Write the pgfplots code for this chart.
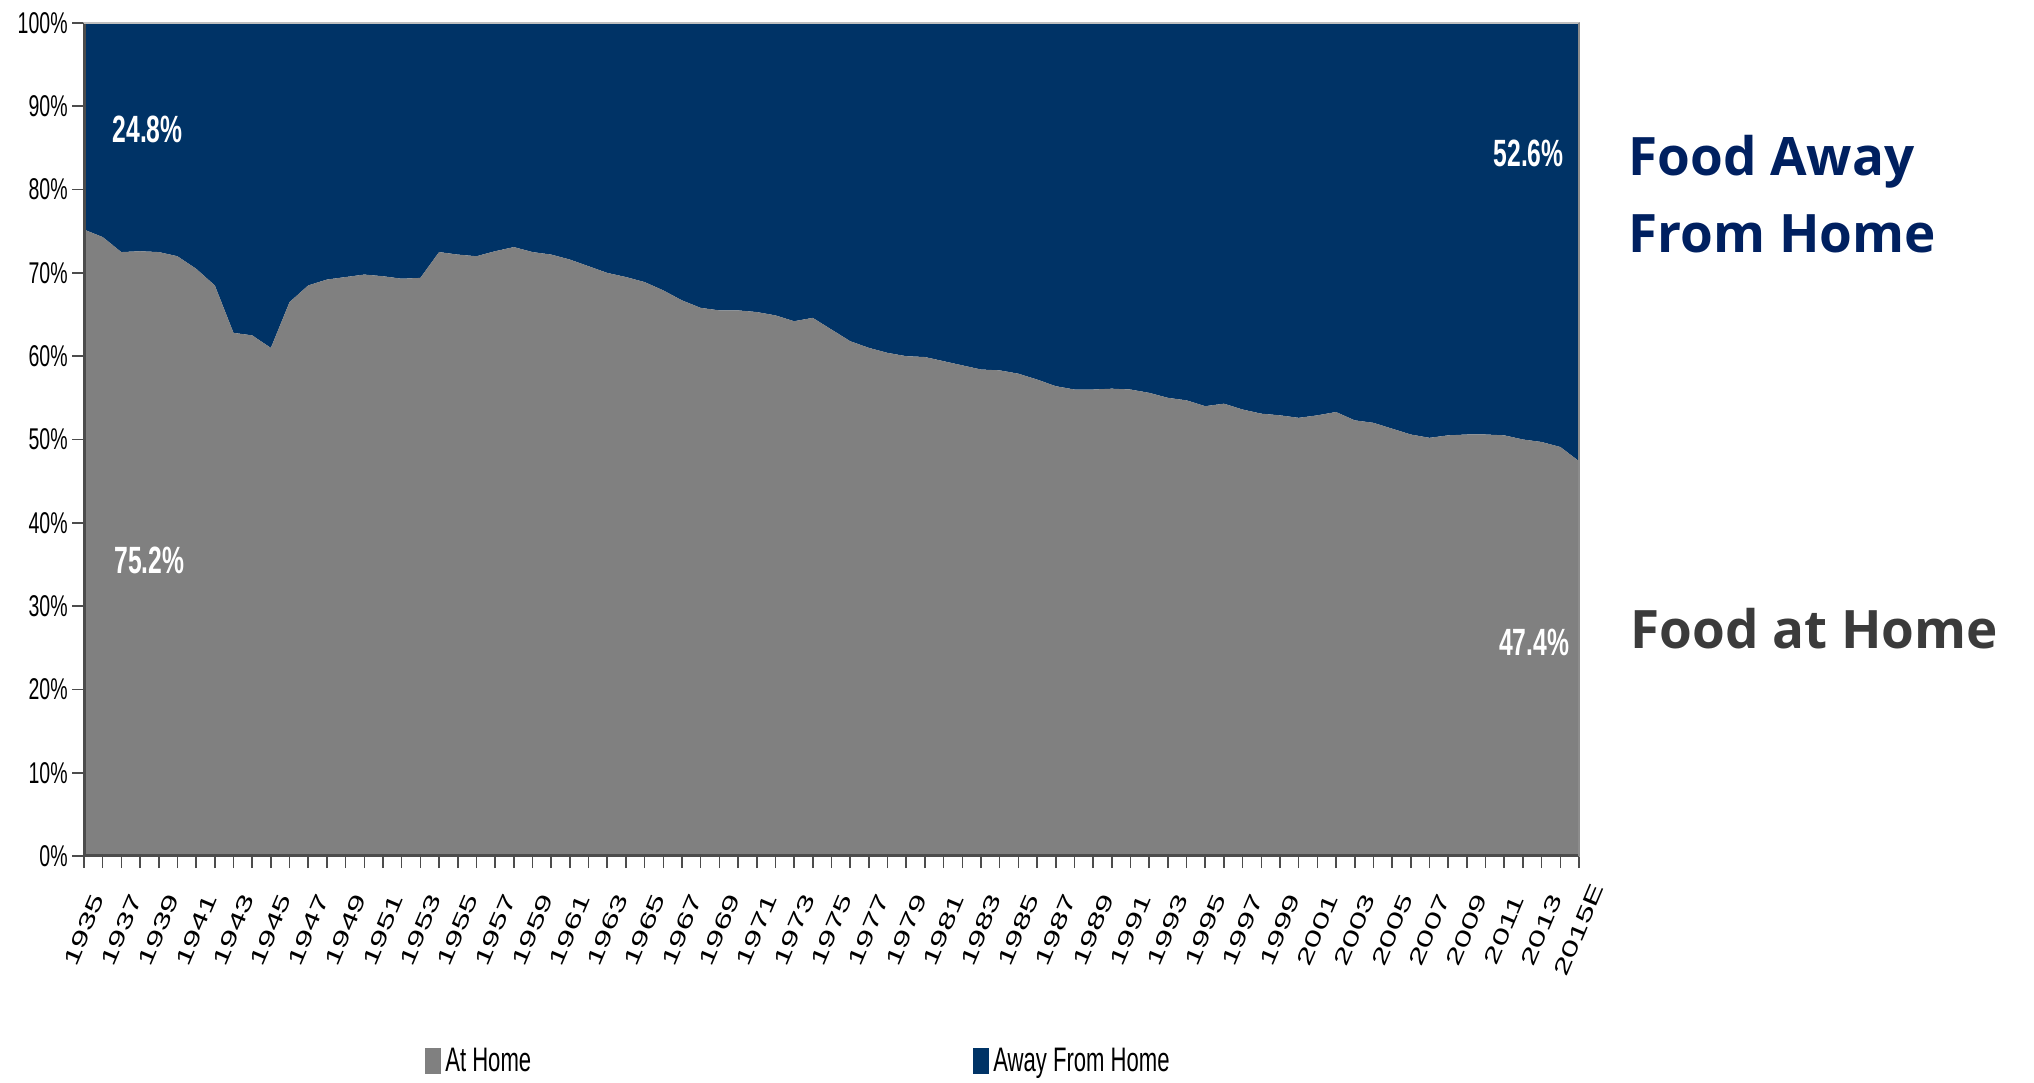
\documentclass[border=0pt]{standalone}
\usepackage{fontspec}
\usepackage{pgfplots}
\usepackage{pgfplotstable}
\pgfplotsset{compat=1.18}
\setmainfont{Liberation Sans}
\newfontfamily\narrowfont[FakeStretch=0.65]{Liberation Sans}
\newfontfamily\yearfont[FakeStretch=1.6]{Liberation Sans}
\newfontfamily\titlefont{Open Sans}
\definecolor{homegray}{HTML}{808080}
\definecolor{awaynavy}{HTML}{003366}
\definecolor{titlenavy}{HTML}{002060}
\definecolor{titlegray}{HTML}{3B3B3B}

\pgfplotstableread{
year home away
1935 75.2 24.8
1936 74.3 25.7
1937 72.5 27.5
1938 72.6 27.4
1939 72.5 27.5
1940 72.0 28.0
1941 70.5 29.5
1942 68.5 31.5
1943 62.8 37.2
1944 62.5 37.5
1945 61.0 39.0
1946 66.5 33.5
1947 68.5 31.5
1948 69.2 30.8
1949 69.5 30.5
1950 69.8 30.2
1951 69.6 30.4
1952 69.3 30.7
1953 69.4 30.6
1954 72.5 27.5
1955 72.2 27.8
1956 72.0 28.0
1957 72.6 27.4
1958 73.1 26.9
1959 72.5 27.5
1960 72.2 27.8
1961 71.6 28.4
1962 70.8 29.2
1963 70.0 30.0
1964 69.5 30.5
1965 68.9 31.1
1966 67.9 32.1
1967 66.7 33.3
1968 65.8 34.2
1969 65.5 34.5
1970 65.5 34.5
1971 65.3 34.7
1972 64.9 35.1
1973 64.2 35.8
1974 64.6 35.4
1975 63.2 36.8
1976 61.8 38.2
1977 61.0 39.0
1978 60.4 39.6
1979 60.0 40.0
1980 59.9 40.1
1981 59.4 40.6
1982 58.9 41.1
1983 58.4 41.6
1984 58.3 41.7
1985 57.9 42.1
1986 57.2 42.8
1987 56.4 43.6
1988 56.0 44.0
1989 56.0 44.0
1990 56.1 43.9
1991 56.0 44.0
1992 55.6 44.4
1993 55.0 45.0
1994 54.7 45.3
1995 54.0 46.0
1996 54.3 45.7
1997 53.6 46.4
1998 53.1 46.9
1999 52.9 47.1
2000 52.6 47.4
2001 52.9 47.1
2002 53.3 46.7
2003 52.3 47.7
2004 52.0 48.0
2005 51.3 48.7
2006 50.6 49.4
2007 50.2 49.8
2008 50.5 49.5
2009 50.6 49.4
2010 50.6 49.4
2011 50.5 49.5
2012 50.0 50.0
2013 49.7 50.3
2014 49.1 50.9
2015 47.4 52.6
}\foodtable

\begin{document}
\begin{tikzpicture}[x=1pt,y=1pt]
\useasboundingbox (0,0) rectangle (1017,541);
\begin{axis}[
  name=main,
  at={(42pt,113pt)}, anchor=south west,
  width=747.5pt, height=416.5pt, scale only axis,
  xmin=1935, xmax=2015, ymin=0, ymax=100,
  stack plots=y,
  axis line style={draw=black!35, line width=1pt},
  xtick={1935,1937,...,2015},
  xticklabels={1935,1937,1939,1941,1943,1945,1947,1949,1951,1953,1955,1957,1959,1961,1963,1965,1967,1969,1971,1973,1975,1977,1979,1981,1983,1985,1987,1989,1991,1993,1995,1997,1999,2001,2003,2005,2007,2009,2011,2013,2015E},
  minor xtick={1936,1938,...,2014},
  ytick={0,10,...,100},
  yticklabels={0\%,10\%,20\%,30\%,40\%,50\%,60\%,70\%,80\%,90\%,100\%},
  xtick pos=bottom, ytick pos=left,
  tick align=outside,
  major tick length=6pt, minor tick length=6pt,
  every tick/.style={black!70, line width=0.8pt},
  xticklabel shift=31pt,
  xticklabel style={rotate=67, anchor=center, inner sep=0pt, font=\yearfont\fontsize{10.5}{10.5}\selectfont},
  yticklabel style={font=\narrowfont\fontsize{15}{15}\selectfont, inner sep=2pt},
  legend columns=2,
  legend style={at={(0.224,-0.246)}, anchor=west, draw=none, fill=none,
    font=\narrowfont\fontsize{17}{17}\selectfont,
    /tikz/every even column/.append style={column sep=219pt}},
  legend image code/.code={\fill[#1] (0pt,-6.5pt) rectangle (8pt,6.5pt);},
]
\addplot[fill=homegray, draw=none] table[x=year, y=home] {\foodtable} \closedcycle;
\addlegendentry{At Home}
\addplot[fill=awaynavy, draw=none] table[x=year, y=away] {\foodtable} \closedcycle;
\addlegendentry{Away From Home}
\end{axis}

% axis frame: darker left and bottom lines
\draw[black!70, line width=1.5pt] (main.north west) -- (main.south west) -- (main.south east);
\draw[black!25, line width=1.2pt] (main.north west) -- (main.north east);
\draw[black!45, line width=1pt] (main.north east) -- (main.south east);

% value labels inside the areas
\node[text=white, font=\narrowfont\bfseries\fontsize{19}{19}\selectfont] at (73.8,476.2) {24.8\%};
\node[text=white, font=\narrowfont\bfseries\fontsize{19}{19}\selectfont] at (74.7,260.9) {75.2\%};
\node[text=white, font=\narrowfont\bfseries\fontsize{19}{19}\selectfont] at (764.3,464.5) {52.6\%};
\node[text=white, font=\narrowfont\bfseries\fontsize{19}{19}\selectfont] at (767.1,220.0) {47.4\%};

\node[anchor=west, align=left, text=titlenavy, inner sep=0pt,
  font=\titlefont\bfseries\fontsize{26.5}{38.5}\selectfont] at (814,444) {Food Away\\From Home};
\node[anchor=west, text=titlegray, inner sep=0pt,
  font=\titlefont\bfseries\fontsize{26.5}{38.5}\selectfont] at (815,226.5) {Food at Home};
\end{tikzpicture}
\end{document}
